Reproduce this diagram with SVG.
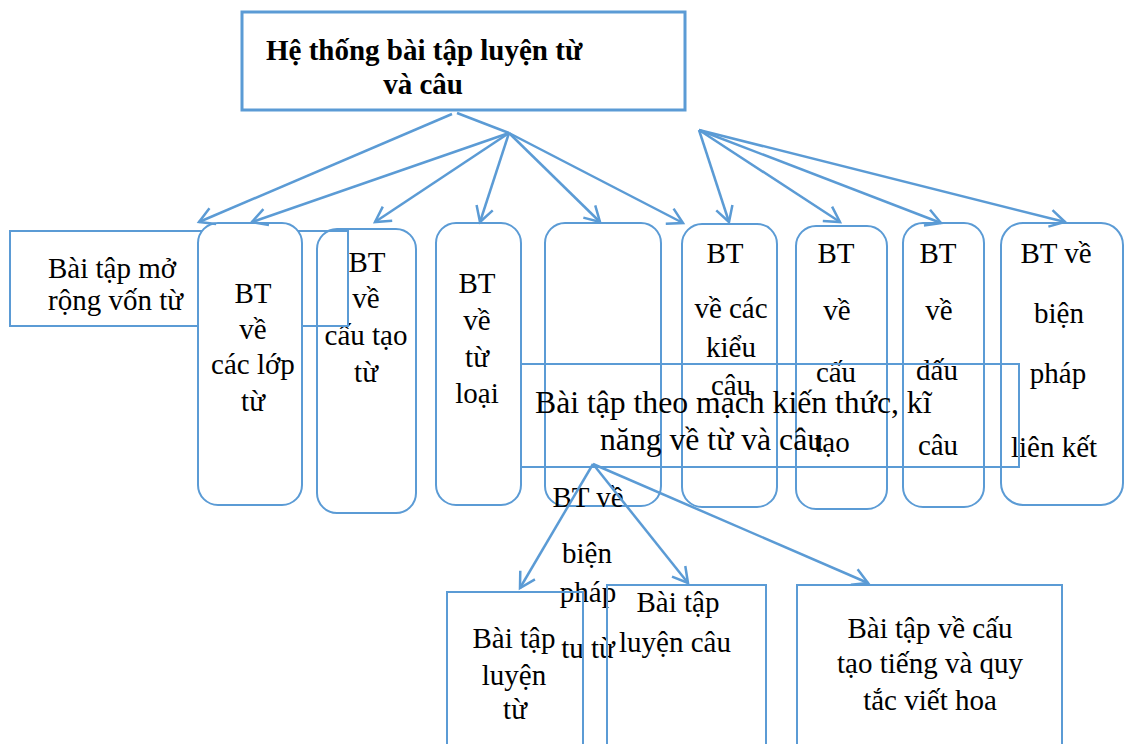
<svg xmlns="http://www.w3.org/2000/svg" width="1124" height="744" viewBox="0 0 1124 744">
<style>
.b{fill:none;stroke:#5B9BD5;stroke-width:2}
.w{fill:#fff;stroke:#5B9BD5;stroke-width:2}
.t{font-family:"Liberation Serif","Times New Roman",serif;font-size:29px;fill:#000}
.c{text-anchor:middle}
.h{font-weight:bold;font-size:29px}
.g{font-size:31.7px}
.ln{fill:none;stroke:#5B9BD5;stroke-width:2.5;marker-end:url(#ah)}
.pl{fill:none;stroke:#5B9BD5;stroke-width:2.5}
</style>
<defs>
<marker id="ah" markerUnits="userSpaceOnUse" markerWidth="22" markerHeight="22" viewBox="-18 -11 20 22" refX="0" refY="0" orient="auto">
<path d="M-15,-8.5 L0,0 L-15,8.5" fill="none" stroke="#5B9BD5" stroke-width="2.5"/>
</marker>
</defs>
<rect width="1124" height="744" fill="#fff"/>
<g id="root">
<rect x="242" y="12" width="443" height="98" fill="#fff" stroke="#5B9BD5" stroke-width="3"/>
<text class="t h" x="266" y="60">Hệ thống bài tập luyện từ</text>
<text class="t h c" x="423" y="94">và câu</text>
</g>
<g id="n-cautao">
<rect class="w" x="317" y="229" width="99" height="284" rx="20"/>
<text class="t c" x="367" y="272">BT</text>
<text class="t c" x="366" y="308">về</text>
<text class="t c" x="366" y="345">cấu tạo</text>
<text class="t c" x="366" y="382">từ</text>
</g>
<g id="n-morong">
<rect class="b" x="10" y="231" width="338" height="95"/>
<text class="t" x="48" y="278">Bài tập mở</text>
<text class="t" x="48" y="310">rộng vốn từ</text>
</g>
<g id="n-loptu">
<rect class="w" x="198" y="223" width="104" height="282" rx="20"/>
<text class="t c" x="253" y="303">BT</text>
<text class="t c" x="253" y="339">về</text>
<text class="t c" x="253" y="374">các lớp</text>
<text class="t c" x="253" y="411">từ</text>
</g>
<g id="n-tuloai">
<rect class="w" x="436" y="223" width="85" height="282" rx="20"/>
<text class="t c" x="477" y="293">BT</text>
<text class="t c" x="477" y="330">về</text>
<text class="t c" x="477" y="367">từ</text>
<text class="t c" x="477" y="403">loại</text>
</g>
<g id="n-empty">
<rect class="w" x="545" y="223" width="116" height="283" rx="20"/>
</g>
<g id="n-kieucau">
<rect class="w" x="682" y="224" width="95" height="283" rx="20"/>
<text class="t c" x="725" y="263">BT</text>
<text class="t c" x="731" y="318">về các</text>
<text class="t c" x="731" y="357">kiểu</text>
<text class="t c" x="731" y="395">câu</text>
</g>
<g id="n-cautao2">
<rect class="w" x="796" y="226" width="91" height="283" rx="20"/>
<text class="t c" x="836" y="263">BT</text>
<text class="t c" x="837" y="320">về</text>
<text class="t c" x="836" y="382">cấu</text>
<text class="t c" x="832" y="452">tạo</text>
</g>
<g id="n-daucau">
<rect class="w" x="903" y="223" width="81" height="284" rx="20"/>
<text class="t c" x="938" y="263">BT</text>
<text class="t c" x="939" y="320">về</text>
<text class="t c" x="937" y="380">dấu</text>
<text class="t c" x="938" y="455">câu</text>
</g>
<g id="n-lienket">
<rect class="w" x="1001" y="223" width="122" height="282" rx="22"/>
<text class="t c" x="1056" y="263">BT về</text>
<text class="t c" x="1059" y="323">biện</text>
<text class="t c" x="1058" y="383">pháp</text>
<text class="t c" x="1054" y="457">liên kết</text>
</g>
<g id="n-mach">
<rect class="b" x="521" y="364" width="498" height="103"/>
<text class="t g" x="535" y="413">Bài tập theo mạch kiến thức, kĩ</text>
<text class="t g" x="600" y="450">năng về từ và câu</text>
</g>
<g id="n-bienphap">
<text class="t c" x="588" y="507">BT về</text>
<text class="t c" x="587" y="563">biện</text>
<text class="t c" x="588" y="602">pháp</text>
<text class="t c" x="588" y="658">tu từ</text>
</g>
<g id="n-luyentu">
<rect class="b" x="447" y="592" width="136" height="170"/>
<text class="t c" x="514" y="648">Bài tập</text>
<text class="t c" x="514" y="685">luyện</text>
<text class="t c" x="515" y="719">từ</text>
</g>
<g id="n-luyencau">
<rect class="b" x="607" y="585" width="159" height="177"/>
<text class="t c" x="678" y="612">Bài tập</text>
<text class="t c" x="675" y="652">luyện câu</text>
</g>
<g id="n-tieng">
<rect class="b" x="797" y="585" width="265" height="177"/>
<text class="t c" x="930" y="638">Bài tập về cấu</text>
<text class="t c" x="930" y="673">tạo tiếng và quy</text>
<text class="t c" x="930" y="710">tắc viết hoa</text>
</g>
<g id="connectors">
<line class="ln" x1="452" y1="114" x2="199" y2="222"/>
<polyline class="pl" points="457,113 509,133"/>
<line class="ln" x1="509" y1="133" x2="252" y2="222"/>
<line class="ln" x1="509" y1="133" x2="375" y2="222"/>
<line class="ln" x1="509" y1="133" x2="480" y2="222"/>
<line class="ln" x1="509" y1="133" x2="600" y2="222"/>
<line class="ln" x1="509" y1="133" x2="683" y2="223"/>
<line class="ln" x1="699" y1="130" x2="729" y2="222"/>
<line class="ln" x1="699" y1="130" x2="840" y2="222"/>
<line class="ln" x1="699" y1="130" x2="941" y2="223"/>
<line class="ln" x1="699" y1="130" x2="1065" y2="222"/>
<line class="ln" x1="593" y1="464" x2="520" y2="588"/>
<line class="ln" x1="593" y1="464" x2="688" y2="583"/>
<line class="ln" x1="593" y1="464" x2="868" y2="583"/>
</g>
</svg>
